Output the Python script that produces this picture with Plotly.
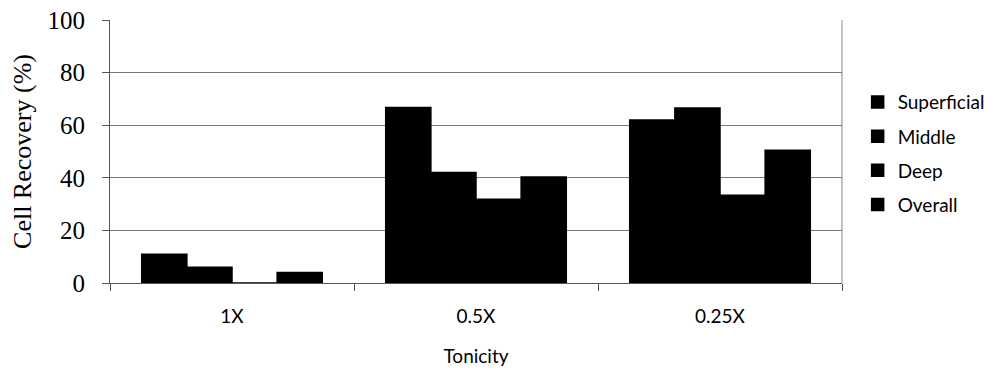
import plotly.graph_objects as go

categories = ["1X", "0.5X", "0.25X"]
series_names = ["Superficial", "Middle", "Deep", "Overall"]
superficial = [10.9, 66.7, 62.0]
middle = [6.0, 42.0, 66.5]
deep = [0.0, 31.8, 33.4]
overall = [4.0, 40.3, 50.5]
y_ticks = [0, 20, 40, 60, 80, 100]

values = [superficial, middle, deep, overall]

fig = go.Figure()
for i, (name, vals) in enumerate(zip(series_names, values)):
    fig.add_trace(go.Bar(
        x=categories, y=vals, name=name,
        legendgroup=name,
        marker=dict(color="black", line=dict(color="black", width=1.5)),
    ))

label_font = dict(family="Lato", size=19, color="black")

fig.update_layout(
    width=1001, height=372,
    margin=dict(l=110, r=158, t=20, b=89),
    paper_bgcolor="white", plot_bgcolor="white",
    barmode="group", bargap=0.26, bargroupgap=0,
    showlegend=True,
    legend=dict(
        x=1.02, xanchor="left", y=0.76, yanchor="top",
        font=label_font,
        tracegroupgap=6.5, itemwidth=30,
        bgcolor="rgba(0,0,0,0)",
    ),
    xaxis=dict(
        type="category", automargin=False,
        showline=True, linecolor="#555555", linewidth=1,
        ticks="outside", tickson="boundaries", ticklen=7, tickcolor="#555555",
        tickfont=label_font,
        ticklabelstandoff=16,
        title=dict(text="Tonicity", font=label_font, standoff=23),
        showgrid=False,
    ),
    yaxis=dict(
        range=[0, 100], tickvals=y_ticks, automargin=False,
        showline=True, linecolor="#555555", linewidth=1,
        ticks="outside", ticklen=7, tickcolor="#555555",
        tickfont=dict(family="Liberation Serif", size=25, color="black"),
        ticklabelstandoff=12,
        showgrid=True, gridcolor="#777777", gridwidth=1,
        zeroline=False,
        title=dict(text="Cell Recovery (%)", font=dict(family="Liberation Serif", size=26, color="black"), standoff=8),
    ),
    shapes=[dict(type="line", xref="paper", yref="paper", x0=1, x1=1, y0=0, y1=1,
                 line=dict(color="#888888", width=1))],
)

fig.write_html("out.html")
